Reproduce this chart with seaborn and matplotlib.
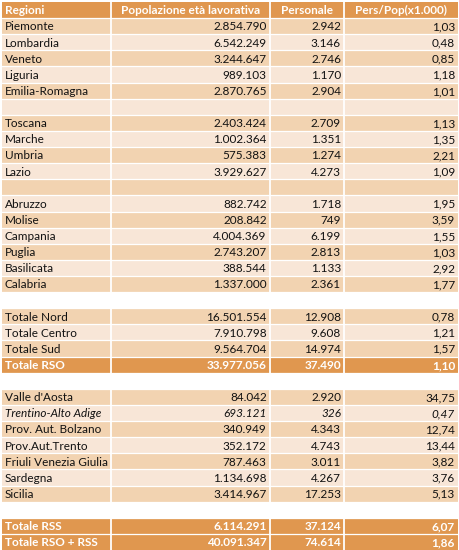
import numpy as np
import matplotlib
matplotlib.use("Agg")
import matplotlib.pyplot as plt
from matplotlib.colors import ListedColormap
import seaborn as sns

# --- data -------------------------------------------------------------
intestazioni = ["Regioni", "Popolazione età lavorativa", "Personale", "Pers/Pop(x1.000)"]

regioni = ["Piemonte", "Lombardia", "Veneto", "Liguria", "Emilia-Romagna",
           "Toscana", "Marche", "Umbria", "Lazio",
           "Abruzzo", "Molise", "Campania", "Puglia", "Basilicata", "Calabria",
           "Totale Nord", "Totale Centro", "Totale Sud", "Totale RSO",
           "Valle d'Aosta", "Trentino-Alto Adige", "Prov. Aut. Bolzano", "Prov.Aut.Trento",
           "Friuli Venezia Giulia", "Sardegna", "Sicilia",
           "Totale RSS", "Totale RSO + RSS"]

popolazione = [2854790, 6542249, 3244647, 989103, 2870765,
               2403424, 1002364, 575383, 3929627,
               882742, 208842, 4004369, 2743207, 388544, 1337000,
               16501554, 7910798, 9564704, 33977056,
               84042, 693121, 340949, 352172,
               787463, 1134698, 3414967,
               6114291, 40091347]

personale = [2942, 3146, 2746, 1170, 2904,
             2709, 1351, 1274, 4273,
             1718, 749, 6199, 2813, 1133, 2361,
             12908, 9608, 14974, 37490,
             2920, 326, 4343, 4743,
             3011, 4267, 17253,
             37124, 74614]

pers_pop = [1.03, 0.48, 0.85, 1.18, 1.01,
            1.13, 1.35, 2.21, 1.09,
            1.95, 3.59, 1.55, 1.03, 2.92, 1.77,
            0.78, 1.21, 1.57, 1.10,
            34.75, 0.47, 12.74, 13.44,
            3.82, 3.76, 5.13,
            6.07, 1.86]

# row order: index into regioni, "vuota" = empty striped row, "spazio" = white gap
ordine = [0, 1, 2, 3, 4, "vuota", 5, 6, 7, 8, "vuota",
          9, 10, 11, 12, 13, 14, "spazio",
          15, 16, 17, 18, "spazio",
          19, 20, 21, 22, 23, 24, 25, "spazio",
          26, 27]

evidenziate = {"Totale RSO", "Totale RSS", "Totale RSO + RSS"}
corsivo = {"Trentino-Alto Adige"}

# --- styling ----------------------------------------------------------
arancio = "#E0974F"
scuro = "#F2D3B1"
chiaro = "#F8E6D7"
larghezze = [22, 32, 15, 23]   # column widths in grid units

plt.rcParams["font.family"] = ["Lato", "DejaVu Sans"]

n_righe = len(ordine) + 1
n_col = sum(larghezze)
bordi = np.concatenate([[0], np.cumsum(larghezze)])

codici = np.zeros((n_righe, n_col))
codici[0, :] = 3
k = 0
for i, voce in enumerate(ordine, start=1):
    if voce == "spazio":
        codici[i, :] = 0
        k = 0
        continue
    nome = regioni[voce] if voce != "vuota" else ""
    if nome in evidenziate:
        codici[i, :] = 3
    else:
        codici[i, :] = 2 if k % 2 == 0 else 1
    k += 1

fig = plt.figure(figsize=(4.6, 5.5), dpi=100)
ax = fig.add_axes([2 / 460, 0, 456 / 460, 548 / 550])
sns.heatmap(codici, ax=ax, cmap=ListedColormap(["white", chiaro, scuro, arancio]),
            vmin=-0.5, vmax=3.5, cbar=False, linewidths=0)
ax.set_xticks([])
ax.set_yticks([])

for y in range(1, n_righe):
    ax.axhline(y, color="white", lw=0.9)
for x in bordi[1:-1]:
    ax.axvline(x, color="white", lw=1.3)

fs = 8.5
pad = 0.6

def it_int(v):
    return f"{v:,}".replace(",", ".")

def it_dec(v):
    return f"{v:.2f}".replace(".", ",")

# header
for j, testo in enumerate(intestazioni):
    if j == 0:
        ax.text(bordi[0] + pad, 0.5, testo, ha="left", va="center",
                color="white", fontsize=fs, fontweight="bold")
    else:
        ax.text((bordi[j] + bordi[j + 1]) / 2, 0.5, testo, ha="center", va="center",
                color="white", fontsize=fs, fontweight="bold")

# body
for i, voce in enumerate(ordine, start=1):
    if voce in ("spazio", "vuota"):
        continue
    nome = regioni[voce]
    valori = [it_int(popolazione[voce]), it_int(personale[voce]), it_dec(pers_pop[voce])]
    col = "white" if nome in evidenziate else "#111111"
    peso = "bold" if nome in evidenziate else "normal"
    forma = "italic" if nome in corsivo else "normal"
    yc = i + 0.55
    ax.text(bordi[0] + pad, yc, nome, ha="left", va="center", color=col,
            fontsize=fs, fontweight=peso, fontstyle=forma)
    for j, testo in enumerate(valori, start=1):
        ax.text(bordi[j + 1] - pad, yc, testo, ha="right", va="center", color=col,
                fontsize=fs, fontweight=peso, fontstyle=forma)

fig.savefig("out.png", dpi=100)
